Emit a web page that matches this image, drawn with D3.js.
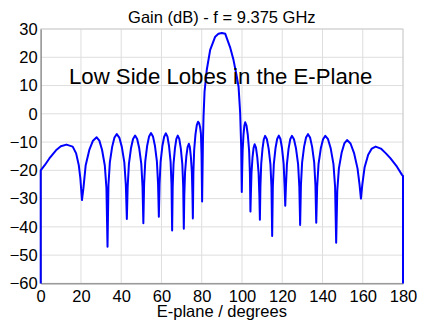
<!DOCTYPE html>
<html>
<head>
<meta charset="utf-8">
<script src="https://cdn.jsdelivr.net/npm/d3@7"></script>
<style>
  body { margin: 0; background: #fff; }
  text { font-family: "Liberation Sans", Arial, sans-serif; fill: #000; }
</style>
</head>
<body>
<div id="canvas"></div>
<script>
// E-plane angle (degrees) and gain (dB)
const angles = [
  0, 0, 2, 4.3, 7.6, 10, 12.8, 15.9, 17.6, 18.9, 19.7, 20.5,
  21.23, 22.33, 24.15, 25.98, 27.8, 29.15, 30.5, 31.85, 32.66, 33.2,
  33.66, 34.35, 35.5, 36.65, 37.8, 39.05, 40.3, 41.55, 42.3, 42.8,
  43.21, 43.83, 44.85, 45.88, 46.9, 47.93, 48.95, 49.98, 50.59, 51.0,
  51.38, 51.95, 52.9, 53.85, 54.8, 55.78, 56.75, 57.73, 58.31, 58.7,
  59.05, 59.58, 60.45, 61.33, 62.2, 62.98, 63.75, 64.53, 64.99, 65.3,
  65.58, 66.0, 66.7, 67.4, 68.1, 68.85, 69.6, 70.35, 70.8, 71.1,
  71.35, 71.73, 72.35, 72.98, 73.6, 74.1, 74.6, 75.1, 75.4, 75.6,
  75.86, 76.25, 76.9, 77.55, 78.2, 78.7, 79.2, 79.6, 79.9, 80.2,
  80.6, 80.9, 81.4, 82.5, 84.2, 86.7, 88.3, 90, 91.7, 92.5, 94.2, 95.8, 97.2, 98.3, 99.1, 99.6, 99.9,
  100.07, 100.33, 100.75, 101.18, 101.6, 102.25, 102.9, 103.55, 103.94, 104.2,
  104.41, 104.73, 105.25, 105.78, 106.3, 106.95, 107.6, 108.25, 108.64, 108.9,
  109.16, 109.55, 110.2, 110.85, 111.5, 112.38, 113.25, 114.13, 114.65, 115.0,
  115.33, 115.83, 116.65, 117.48, 118.3, 119.1, 119.9, 120.7, 121.18, 121.5,
  121.83, 122.33, 123.15, 123.98, 124.8, 125.83, 126.85, 127.88, 128.49, 128.9,
  129.29, 129.88, 130.85, 131.83, 132.8, 133.83, 134.85, 135.88, 136.49, 136.9,
  137.35, 138.03, 139.15, 140.28, 141.4, 142.75, 144.1, 145.45, 146.26, 146.8,
  147.34, 148.15, 149.5, 150.85, 152.2, 153.93, 155.65, 157.4, 158.4, 159.1,
  159.8, 160.9, 162.7, 164.5, 166.4, 169, 171.5, 173.7, 177, 179.5, 180, 180
];
const gainDb = [
  -60, -20, -18.2, -15.8, -12.9, -11.5, -10.9, -11.6, -14, -18.1, -22.8, -30.5,
  -26.3, -18.3, -12.8, -9.5, -8.3, -9.5, -12.8, -18.3, -26.3, -47,
  -25.2, -17.2, -11.7, -8.4, -7.2, -8.4, -11.7, -17.2, -25.2, -37.2,
  -25.7, -17.7, -12.2, -8.9, -7.7, -8.9, -12.2, -17.7, -25.7, -38.7,
  -24.8, -16.8, -11.3, -8.0, -6.8, -8.0, -11.3, -16.8, -24.8, -36.4,
  -24.9, -16.9, -11.4, -8.1, -6.9, -8.1, -11.4, -16.9, -24.9, -41.3,
  -25.7, -17.7, -12.2, -8.9, -7.7, -8.9, -12.2, -17.7, -25.7, -40.7,
  -28.6, -20.6, -15.1, -11.8, -10.6, -11.8, -15.1, -20.6, -28.6, -37,
  -20.8, -12.8, -7.3, -4.0, -2.8, -3.3, -4.8, -7, -14, -31,
  -10, -1, 7.8, 15.5, 22.6, 27.3, 28.3, 28.6, 28.3, 26.7, 23.3, 19, 14, 9.6, 0.3, -11.6, -27.7,
  -21, -13, -7.5, -4.2, -3.0, -4.2, -7.5, -13, -21, -34.6,
  -28.8, -20.8, -15.3, -12.0, -10.8, -12.0, -15.3, -20.8, -28.8, -37.5,
  -25.8, -17.8, -12.3, -9.0, -7.8, -9.0, -12.3, -17.8, -25.8, -43.2,
  -25.7, -17.7, -12.2, -8.9, -7.7, -8.9, -12.2, -17.7, -25.7, -32.5,
  -25.8, -17.8, -12.3, -9.0, -7.8, -9.0, -12.3, -17.8, -25.8, -39.3,
  -25.2, -17.2, -11.7, -8.4, -7.2, -8.4, -11.7, -17.2, -25.2, -38.5,
  -25.8, -17.8, -12.3, -9.0, -7.8, -9.0, -12.3, -17.8, -25.8, -45.6,
  -27.3, -19.3, -13.8, -10.5, -9.3, -10.5, -13.8, -19.3, -25, -30,
  -25, -19, -14.5, -12.3, -11.6, -12.3, -14, -15.7, -18.7, -21.6, -22, -60
];

const xTicks = [0, 20, 40, 60, 80, 100, 120, 140, 160, 180];
const yTicks = [-60, -50, -40, -30, -20, -10, 0, 10, 20, 30];

const W = 425, H = 322;
const margin = {top: 29, right: 22, bottom: 38.6, left: 40.7};
const width = W - margin.left - margin.right,
    height = H - margin.top - margin.bottom;

const svg = d3.select("#canvas")
    .append("svg")
    .attr("width", W)
    .attr("height", H)
    .append("g")
    .attr("transform", "translate(" + margin.left + "," + margin.top + ")");

const xScale = d3.scaleLinear().domain([0, 180]).range([0, width]);
const yScale = d3.scaleLinear().domain([-60, 30]).range([height, 0]);

// grid
svg.append("g")
    .selectAll("line")
    .data(xTicks)
    .join("line")
    .attr("x1", d => xScale(d)).attr("x2", d => xScale(d))
    .attr("y1", 0).attr("y2", height)
    .attr("stroke", "#dedede").attr("stroke-width", 1);

svg.append("g")
    .selectAll("line")
    .data(yTicks)
    .join("line")
    .attr("x1", 0).attr("x2", width)
    .attr("y1", d => yScale(d)).attr("y2", d => yScale(d))
    .attr("stroke", "#dedede").attr("stroke-width", 1);

// box
svg.append("rect")
    .attr("width", width).attr("height", height)
    .attr("fill", "none").attr("stroke", "#d0d0d0");

// axes
const xAxis = svg.append("g")
    .attr("transform", "translate(0," + height + ")")
    .call(d3.axisBottom(xScale).tickValues(xTicks).tickSize(0).tickPadding(6.5));
const yAxis = svg.append("g")
    .call(d3.axisLeft(yScale).tickValues(yTicks).tickSize(0).tickPadding(3));

xAxis.select(".domain").attr("stroke", "#777");
yAxis.select(".domain").attr("stroke", "#777");
svg.selectAll(".tick text")
    .style("font-family", "'Liberation Sans', Arial, sans-serif")
    .style("font-size", "16.5px")
    .attr("fill", "#000");

// gain curve
const line = d3.line()
    .x((d, i) => xScale(angles[i]))
    .y((d, i) => yScale(gainDb[i]));

svg.append("path")
    .datum(gainDb)
    .attr("d", line)
    .attr("fill", "none")
    .attr("stroke", "#0000ff")
    .attr("stroke-width", 2)
    .attr("stroke-linejoin", "round");

// texts
svg.append("text")
    .attr("x", width / 2)
    .attr("y", -6)
    .attr("text-anchor", "middle")
    .style("font-size", "16.5px")
    .text("Gain (dB) - f = 9.375 GHz");

svg.append("text")
    .attr("x", width / 2)
    .attr("y", height + 33.5)
    .attr("text-anchor", "middle")
    .style("font-size", "16.5px")
    .text("E-plane / degrees");

svg.append("text")
    .attr("x", 69 - margin.left)
    .attr("y", 84 - margin.top)
    .style("font-size", "22.2px")
    .text("Low Side Lobes in the E-Plane");
</script>
</body>
</html>
